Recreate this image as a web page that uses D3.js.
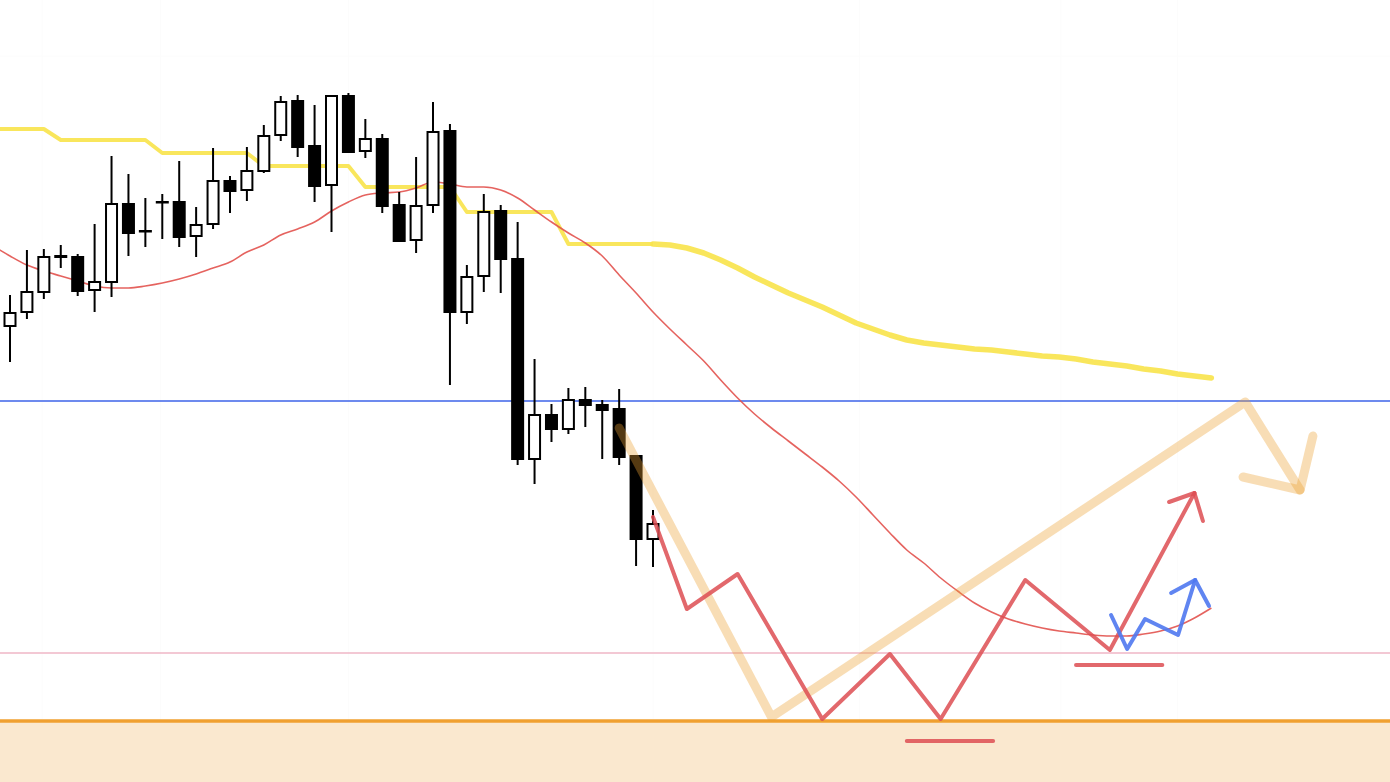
<!DOCTYPE html>
<html>
<head>
<meta charset="utf-8">
<script src="https://cdn.jsdelivr.net/npm/d3@7/dist/d3.min.js"></script>
<style>
html,body{margin:0;padding:0;background:#fff;}
svg{display:block;}
</style>
</head>
<body>
<svg id="chart" width="1390" height="782"></svg>
<script>
// ---------- DATA ----------
// candles: [open, high, low, close] per bar index 0..38
const opens  = [144.56,144.70,144.90,145.25,145.25,144.92,145.00,145.78,145.51,145.80,145.80,145.46,145.58,146.01,145.92,146.11,146.47,146.81,146.36,145.97,146.86,146.31,146.43,145.77,145.42,145.77,146.51,144.70,145.06,145.71,145.23,143.23,143.67,143.53,143.82,143.77,143.73,143.26,142.43];
const highs  = [144.87,145.32,145.33,145.37,145.28,145.58,146.26,146.08,145.84,145.88,146.21,145.75,146.34,146.06,146.35,146.57,146.86,146.87,146.77,146.87,146.89,146.63,146.48,145.90,146.25,146.80,146.58,145.17,145.88,145.77,145.60,144.23,143.78,143.94,143.95,143.82,143.93,143.26,142.72];
const lows   = [144.20,144.63,144.83,145.14,144.86,144.70,144.85,145.26,145.35,145.43,145.35,145.25,145.53,145.69,145.81,146.09,146.41,146.25,145.80,145.50,146.30,146.24,145.69,145.41,145.29,145.69,143.97,144.58,144.90,144.89,143.17,142.98,143.40,143.48,143.55,143.23,143.17,142.16,142.15];
const closes = [144.69,144.90,145.25,145.26,144.91,145.00,145.78,145.49,145.51,145.80,145.45,145.57,146.01,145.91,146.11,146.46,146.80,146.35,145.96,146.86,146.30,146.43,145.76,145.41,145.76,146.50,144.70,145.05,145.70,145.23,143.23,143.67,143.53,143.82,143.77,143.72,143.25,142.43,142.58];

// yellow line (per bar index, starting at index -1, projected to index 71)
const yellowStart = -1;
const yellowValues = [146.53,146.53,146.53,146.53,
  146.42,146.42,146.42,146.42,146.42,146.42,
  146.29,146.29,146.29,146.29,146.29,146.29,
  146.16,146.16,146.16,146.16,146.16,146.16,
  145.95,145.95,145.95,145.95,145.95,145.95,
  145.70,145.70,145.70,145.70,145.70,145.70,
  145.38,145.38,145.38,145.38,145.38,145.38,
  145.37,145.34,145.29,145.22,145.14,145.05,144.97,144.89,144.82,144.75,144.67,144.59,144.53,144.47,144.42,144.39,144.37,144.35,144.33,144.32,144.30,144.28,144.26,144.25,144.23,144.20,144.18,144.16,144.13,144.11,144.08,144.06,144.04];

// red moving average (per bar index, starting at index -1)
const maStart = -1;
const maValues = [145.36,145.26,145.17,145.11,145.06,145.01,144.96,144.94,144.94,144.96,144.99,145.03,145.08,145.14,145.20,145.30,145.37,145.47,145.53,145.60,145.71,145.80,145.87,145.89,145.90,145.94,146.00,145.98,145.95,145.95,145.92,145.84,145.72,145.60,145.49,145.39,145.26,145.07,144.89,144.70,
  144.53,144.37,144.21,144.02,143.84,143.68,143.54,143.41,143.28,143.15,143.01,142.85,142.67,142.49,142.32,142.19,142.04,141.91,141.79,141.70,141.63,141.58,141.54,141.51,141.49,141.47,141.46,141.46,141.48,141.51,141.56,141.64,141.74];

// horizontal levels
const levelBlue = 143.81;
const levelPink = 141.29;
const levelSupport = 140.61;

// hand-drawn scenario paths [barIndex, price]
const beigePath  = [[36,143.54],[45,140.65],[73,143.80],[76.24,142.92]];
const beigeHead  = [[72.87,143.05],[76.24,142.92],[77.0,143.46]];
const redPath    = [[38,142.65],[40,141.73],[43,142.08],[48,140.63],[52,141.28],[55,140.63],[60,142.02],[65,141.32],[70,142.89]];
const redHead    = [[68.5,142.80],[70,142.89],[70.5,142.61]];
const redMark1   = [[53,140.41],[58.1,140.41]];
const redMark2   = [[63,141.17],[68.1,141.17]];
const bluePath   = [[65.07,141.67],[66.02,141.33],[67.08,141.63],[69.03,141.47],[70.04,142.02],[70.86,141.76]];
const blueHead   = [[68.62,141.89],[70.04,142.02]];

// faint grid (bar index positions, price levels)
const gridX = [1.9,8.9,20,38,50.2,62.1,69];
const gridY = [147.26];

// ---------- DRAW ----------
const W = 1390, H = 782;
const svg = d3.select("#chart");
const x = d3.scaleLinear().domain([0, 38]).range([10, 653]);
const y = d3.scaleLinear().domain([140, 147.82]).range([782, 0]);

svg.append("rect").attr("width", W).attr("height", H).attr("fill", "#fff");

// grid
svg.append("g").selectAll("line").data(gridX).join("line")
  .attr("x1", d => x(d)).attr("x2", d => x(d)).attr("y1", 0).attr("y2", H)
  .attr("stroke", "#fcfcfc").attr("stroke-width", 1);
svg.append("g").selectAll("line").data(gridY).join("line")
  .attr("x1", 0).attr("x2", W).attr("y1", d => y(d)).attr("y2", d => y(d))
  .attr("stroke", "#fcfcfc").attr("stroke-width", 1);

// support zone
svg.append("rect").attr("x", 0).attr("y", y(levelSupport)).attr("width", W)
  .attr("height", H - y(levelSupport)).attr("fill", "#fae8cf");
svg.append("line").attr("x1", 0).attr("x2", W)
  .attr("y1", y(levelSupport)).attr("y2", y(levelSupport))
  .attr("stroke", "#f0a030").attr("stroke-width", 3.5);

// levels
svg.append("line").attr("x1", 0).attr("x2", W)
  .attr("y1", y(levelBlue)).attr("y2", y(levelBlue))
  .attr("stroke", "#3d63e8").attr("stroke-width", 1.5);
svg.append("line").attr("x1", 0).attr("x2", W)
  .attr("y1", y(levelPink)).attr("y2", y(levelPink))
  .attr("stroke", "#efb6c6").attr("stroke-width", 1.5);

const line = d3.line().x(d => x(d[0])).y(d => y(d[1]));

// yellow line
const yellowPts = yellowValues.map((v, i) => [yellowStart + i, v]);
svg.append("path").datum(yellowPts.filter(d => d[0] <= 38)).attr("d", line)
  .attr("fill", "none").attr("stroke", "#f9e44e").attr("stroke-width", 4)
  .attr("stroke-linejoin", "round").attr("opacity", 0.92);
svg.append("path").datum(yellowPts.filter(d => d[0] >= 38)).attr("d", line)
  .attr("fill", "none").attr("stroke", "#f9e44e").attr("stroke-width", 5.5)
  .attr("stroke-linecap", "round").attr("stroke-linejoin", "round").attr("opacity", 0.92);

// red MA
const maPts = maValues.map((v, i) => [maStart + i, v]);
svg.append("path").datum(maPts).attr("d", d3.line().x(d => x(d[0])).y(d => y(d[1])).curve(d3.curveMonotoneX))
  .attr("fill", "none").attr("stroke", "#e2524e").attr("stroke-width", 1.6).attr("opacity", 0.9);

// candles
const candles = opens.map((o, i) => ({i, o, h: highs[i], l: lows[i], c: closes[i]}));
const cg = svg.append("g");
cg.selectAll("line.wick").data(candles).join("line").attr("class", "wick")
  .attr("x1", d => x(d.i)).attr("x2", d => x(d.i))
  .attr("y1", d => y(d.h)).attr("y2", d => y(d.l))
  .attr("stroke", "#000").attr("stroke-width", 2);
cg.selectAll("rect.body").data(candles).join("rect").attr("class", "body")
  .attr("x", d => x(d.i) - 5.5).attr("width", 11)
  .attr("y", d => y(Math.max(d.o, d.c)))
  .attr("height", d => Math.max(0.5, Math.abs(y(d.o) - y(d.c))))
  .attr("fill", d => d.c >= d.o ? "#fff" : "#000")
  .attr("stroke", "#000").attr("stroke-width", 2);

// scenario drawings
function stroke(data, color, width, op) {
  svg.append("path").datum(data).attr("d", line).attr("fill", "none")
    .attr("stroke", color).attr("stroke-width", width).attr("opacity", op)
    .attr("stroke-linecap", "round").attr("stroke-linejoin", "round");
}
stroke(beigePath, "rgb(236,160,50)", 9, 0.36);
stroke(beigeHead, "rgb(236,160,50)", 9, 0.36);
stroke(redPath, "#dd4d52", 4, 0.85);
stroke(redHead, "#dd4d52", 4, 0.85);
stroke(redMark1, "#dd4d52", 4, 0.85);
stroke(redMark2, "#dd4d52", 4, 0.85);
stroke(bluePath, "#4f78f0", 4, 0.9);
stroke(blueHead, "#4f78f0", 4, 0.9);
</script>
</body>
</html>
